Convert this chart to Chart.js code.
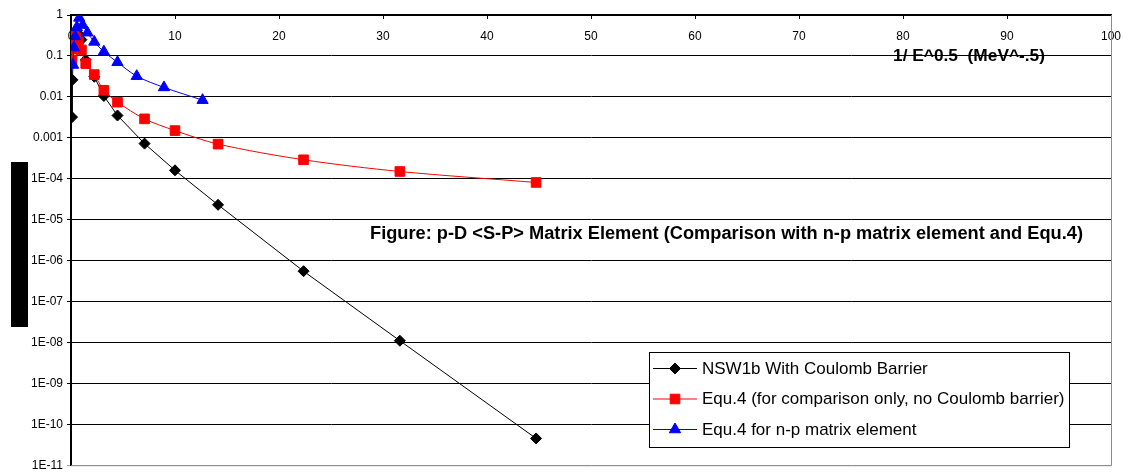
<!DOCTYPE html>
<html>
<head>
<meta charset="utf-8">
<title>p-D S-P Matrix Element</title>
<script src="https://cdn.jsdelivr.net/npm/chart.js@4.4.1/dist/chart.umd.min.js"></script>
<style>
  html, body { margin: 0; padding: 0; background: #fff; }
  #wrap { width: 1131px; height: 473px; }
</style>
</head>
<body>
<div id="wrap"><canvas id="myChart" width="1131" height="473"></canvas></div>
<script>
// x = 1/E^0.5 (MeV^-.5) for the pD curves
const gridX = [0.1, 0.141, 0.224, 0.316, 0.447, 0.707, 1.0, 1.414, 2.236, 3.162, 4.472, 7.071, 10.0, 14.14, 22.36, 31.62, 44.72];
const nswValues = [0.0032, 0.026, 0.15, 0.3, 0.38, 0.35, 0.25, 0.08, 0.031, 0.0105, 0.0035, 0.00072, 0.00016, 2.3e-5, 5.5e-7, 1.1e-8, 4.5e-11];
const equ4Values = [0.08, 0.15, 0.25, 0.3, 0.28, 0.22, 0.14, 0.065, 0.035, 0.0145, 0.0074, 0.0029, 0.0015, 0.0007, 0.00029, 0.00015, 8.1e-5];

// n-p points
const npX = [0.2, 0.28, 0.4, 0.56, 0.79, 1.12, 1.58, 2.24, 3.16, 4.47, 6.32, 8.94, 12.65];
const npValues = [0.06, 0.16, 0.3, 0.5, 0.85, 0.57, 0.37, 0.22, 0.127, 0.07, 0.032, 0.017, 0.0083];

const seriesNames = [
  'NSW1b With Coulomb Barrier',
  'Equ.4 (for comparison only, no Coulomb barrier)',
  'Equ.4 for n-p matrix element'
];

const xTicks = [0, 10, 20, 30, 40, 50, 60, 70, 80, 90, 100];
const yTicks = [1, 0.1, 0.01, 0.001, 1e-4, 1e-5, 1e-6, 1e-7, 1e-8, 1e-9, 1e-10, 1e-11];
const yTickLabels = ['1', '0.1', '0.01', '0.001', '1E-04', '1E-05', '1E-06', '1E-07', '1E-08', '1E-09', '1E-10', '1E-11'];

const chartTitle = 'Figure: p-D <S-P> Matrix Element (Comparison with n-p matrix element and Equ.4)';
const xTitle = '1/ E^0.5  (MeV^-.5)';

function pairs(xs, ys) {
  return xs.map((x, i) => ({ x: x, y: ys[i] }));
}

const FONT = "'Liberation Sans', Arial, sans-serif";

// draw text squeezed/stretched horizontally to a given width
function fitText(ctx, text, x, y, width) {
  const w = ctx.measureText(text).width;
  ctx.save();
  ctx.translate(x, y);
  ctx.scale(width / w, 1);
  ctx.fillText(text, 0, 0);
  ctx.restore();
}

// overlay: title texts, the blacked-out y title and the boxed legend
const overlay = {
  id: 'overlay',
  afterDraw(chart) {
    const ctx = chart.ctx;
    ctx.save();

    ctx.fillStyle = '#000';
    ctx.fillRect(11, 162, 17, 165);

    ctx.textBaseline = 'middle';
    ctx.textAlign = 'left';
    ctx.font = 'bold 18px ' + FONT;
    fitText(ctx, chartTitle, 370, 234, 713);

    ctx.font = 'bold 17px ' + FONT;
    fitText(ctx, xTitle, 893, 56, 152);

    // legend box
    const bx = 649, by = 352, bw = 420, bh = 95;
    ctx.fillStyle = '#fff';
    ctx.fillRect(bx, by, bw, bh);
    ctx.strokeStyle = '#000';
    ctx.lineWidth = 1;
    ctx.strokeRect(bx + 0.5, by + 0.5, bw, bh);

    ctx.font = '17px ' + FONT;
    chart.data.datasets.forEach((ds, i) => {
      const y = by + 16 + i * 30.5;
      ctx.strokeStyle = ds.borderColor;
      ctx.lineWidth = 1;
      ctx.beginPath();
      ctx.moveTo(bx + 4, y + 0.5);
      ctx.lineTo(bx + 48, y + 0.5);
      ctx.stroke();
      ctx.fillStyle = ds.pointBackgroundColor;
      ctx.strokeStyle = ds.pointBorderColor;
      Chart.helpers.drawPoint(ctx, {
        pointStyle: ds.pointStyle,
        radius: ds.pointRadius,
        borderWidth: 1,
        rotation: 0
      }, bx + 26, y + 0.5);
      ctx.fillStyle = '#000';
      ctx.fillText(ds.label, bx + 53, y + 1);
    });

    ctx.restore();
  }
};

// gray frame on the right and bottom of the plot
const frame = {
  id: 'frame',
  beforeDatasetsDraw(chart) {
    const ctx = chart.ctx;
    const a = chart.chartArea;
    ctx.save();
    ctx.strokeStyle = '#8c8c8c';
    ctx.lineWidth = 1;
    ctx.beginPath();
    ctx.moveTo(a.right + 0.5, a.top);
    ctx.lineTo(a.right + 0.5, a.bottom + 0.5);
    ctx.lineTo(a.left, a.bottom + 0.5);
    ctx.stroke();
    ctx.restore();
  }
};

const config = {
  type: 'scatter',
  data: {
    datasets: [{
      label: seriesNames[0],
      data: pairs(gridX, nswValues),
      showLine: true,
      borderColor: '#000000',
      backgroundColor: '#000000',
      pointBackgroundColor: '#000000',
      pointBorderColor: '#000000',
      borderWidth: 1,
      pointStyle: 'rectRot',
      pointRadius: 5.5,
      tension: 0,
      order: 3
    }, {
      label: seriesNames[1],
      data: pairs(gridX, equ4Values),
      showLine: true,
      borderColor: '#ff0000',
      backgroundColor: '#ff0000',
      pointBackgroundColor: '#ff0000',
      pointBorderColor: '#ff0000',
      borderWidth: 1,
      pointStyle: 'rect',
      pointRadius: 6.8,
      tension: 0.3,
      order: 2
    }, {
      label: seriesNames[2],
      data: pairs(npX, npValues),
      showLine: true,
      borderColor: '#0000ff',
      backgroundColor: '#0000ff',
      pointBackgroundColor: '#0000ff',
      pointBorderColor: '#0000ff',
      borderWidth: 1,
      pointStyle: 'triangle',
      pointRadius: 6.5,
      tension: 0.3,
      order: 1
    }]
  },
  options: {
    responsive: false,
    animation: false,
    layout: { padding: { left: 0, top: 0, right: 20, bottom: 4 } },
    plugins: {
      legend: { display: false },
      tooltip: { enabled: false }
    },
    scales: {
      x: {
        type: 'linear',
        position: 'top',
        min: 0,
        max: 100,
        afterBuildTicks: s => { s.ticks = xTicks.map(v => ({ value: v })); },
        afterFit: s => { s.height = 15; s.paddingLeft = 0; s.paddingRight = 0; },
        grid: { drawOnChartArea: false, drawTicks: true, tickLength: -4, color: '#000' },
        border: { color: '#000', width: 2 },
        ticks: {
          mirror: true,
          padding: 14,
          autoSkip: false,
          maxRotation: 0,
          color: '#000',
          font: { family: FONT, size: 12 }
        }
      },
      y: {
        type: 'logarithmic',
        min: 1e-11,
        max: 1,
        afterBuildTicks: s => { s.ticks = yTicks.map(v => ({ value: v })); },
        afterFit: s => { s.width = 71; s.paddingTop = 0; s.paddingBottom = 0; },
        grid: {
          color: ctx => (ctx.tick && ctx.tick.value === 1e-11) ? '#a0a0a0' : '#000',
          lineWidth: 1,
          tickLength: 4,
          drawTicks: true
        },
        border: { color: '#000', width: 2 },
        ticks: {
          padding: 4,
          color: '#000',
          font: { family: FONT, size: 12 },
          callback: function (value) {
            const k = yTicks.findIndex(t => Math.abs(Math.log10(t) - Math.log10(value)) < 1e-6);
            return k >= 0 ? yTickLabels[k] : '';
          }
        }
      }
    }
  },
  plugins: [frame, overlay]
};

const myChart = new Chart(document.getElementById('myChart'), config);
</script>
</body>
</html>
